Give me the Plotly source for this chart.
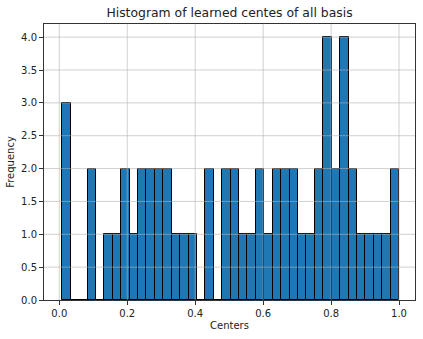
import plotly.graph_objects as go

# histogram of 60 learned centres, 40 equal bins
bin_start = 0.0088
bin_end = 1.0
counts = [3, 0, 0, 2, 0, 1, 1, 2, 1, 2,
          2, 2, 2, 1, 1, 1, 0, 2, 0, 2,
          2, 1, 1, 2, 1, 2, 2, 2, 1, 1,
          2, 4, 2, 4, 2, 1, 1, 1, 1, 2]
x_ticks = [0.0, 0.2, 0.4, 0.6, 0.8, 1.0]
y_ticks = [0.0, 0.5, 1.0, 1.5, 2.0, 2.5, 3.0, 3.5, 4.0]

width = (bin_end - bin_start) / len(counts)
centers = [bin_start + width * (i + 0.5) for i in range(len(counts))]

fig = go.Figure(go.Bar(
    x=centers,
    y=counts,
    width=width,
    marker=dict(color="#1f77b4", line=dict(color="#000000", width=1)),
))

grid_color = "rgba(176,176,176,0.6)"

# matplotlib draws the grid on top of the bars here, so use shapes above traces
for v in x_ticks:
    fig.add_shape(type="line", xref="x", yref="paper", x0=v, x1=v, y0=0, y1=1,
                  line=dict(color=grid_color, width=1), layer="above")
for v in y_ticks[1:]:
    fig.add_shape(type="line", xref="paper", yref="y", x0=0, x1=1, y0=v, y1=v,
                  line=dict(color=grid_color, width=1), layer="above")

axis_common = dict(
    showline=True, linecolor="#333333", linewidth=1, mirror=True,
    ticks="outside", ticklen=4, tickcolor="#333333",
    showgrid=False, zeroline=False, automargin=False,
    tickfont=dict(size=10, color="#222222"),
)

fig.update_layout(
    width=423, height=339,
    margin=dict(l=44, r=8, t=24, b=39),
    paper_bgcolor="white", plot_bgcolor="white",
    font=dict(family="DejaVu Sans", color="#222222"),
    title=dict(text="Histogram of learned centes of all basis", xref="paper", x=0.5,
               xanchor="center", y=0.962, yanchor="middle", font=dict(size=12.4)),
    xaxis=dict(axis_common, range=[-0.045, 1.047], tickvals=x_ticks,
               ticktext=[f"{v:.1f}" for v in x_ticks],
               title=dict(text="Centers", font=dict(size=10), standoff=3)),
    yaxis=dict(axis_common, range=[0, 4.2], tickvals=y_ticks,
               ticktext=[f"{v:.1f}" for v in y_ticks],
               title=dict(text="Frequency", font=dict(size=10), standoff=4)),
    bargap=0,
    showlegend=False,
)

# the browser's default body margin shifts the figure by 8px
fig.write_html("out.html", config={"displayModeBar": False},
               post_script="document.body.style.margin='0px';")
